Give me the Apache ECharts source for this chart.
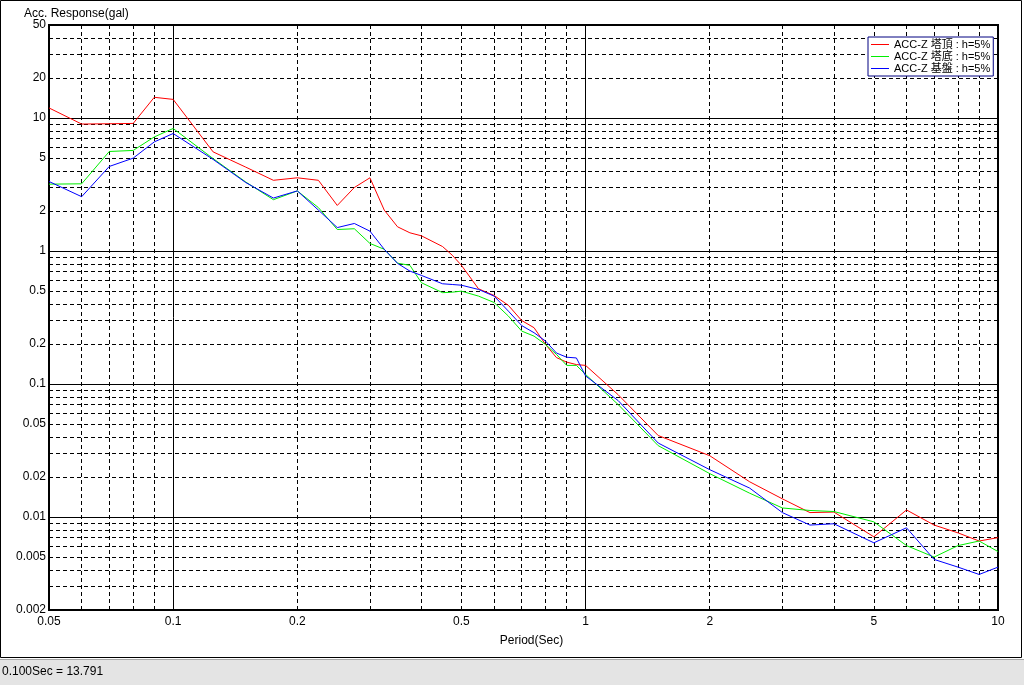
<!DOCTYPE html>
<html>
<head>
<meta charset="utf-8">
<script src="https://cdn.jsdelivr.net/npm/echarts@6/dist/echarts.min.js"></script>
<style>
html,body{margin:0;padding:0;background:#fff;}
#chart{width:1024px;height:685px;}
</style>
</head>
<body>
<div id="chart"></div>
<script>
// ---- data ----
const periods = [0.05,0.06,0.07,0.08,0.09,0.1,0.125,0.15,0.175,0.2,0.225,0.25,0.275,0.3,0.325,0.35,0.375,0.4,0.45,0.475,0.5,0.55,0.6,0.65,0.7,0.75,0.8,0.85,0.9,0.95,1.0,1.2,1.5,2.0,2.5,3.0,3.5,4.0,5.0,6.0,7.0,8.0,9.0,10.0];
const seriesNames = ['ACC-Z 塔頂 : h=5%', 'ACC-Z 塔底 : h=5%', 'ACC-Z 基盤 : h=5%'];
const topVals = [11.9,9.0,9.05,9.1,14.3,13.791,5.56,4.27,3.40,3.55,3.40,2.20,3.0,3.55,2.03,1.52,1.37,1.30,1.08,0.93,0.78,0.52,0.463,0.39,0.30,0.265,0.198,0.158,0.146,0.140,0.138,0.083,0.041,0.0289,0.0184,0.0137,0.0108,0.0109,0.0071,0.0113,0.0087,0.0076,0.0066,0.0070];
const bottomVals = [3.18,3.2,5.6,5.7,7.2,8.34,4.95,3.3,2.43,2.83,2.12,1.45,1.47,1.14,1.03,0.81,0.78,0.577,0.486,0.49,0.499,0.458,0.41,0.324,0.25,0.229,0.198,0.167,0.138,0.138,0.118,0.070,0.0344,0.0212,0.0151,0.0117,0.0112,0.0110,0.0092,0.0061,0.0050,0.0061,0.0066,0.0055];
const baseVals = [3.33,2.56,4.32,4.99,6.61,7.64,4.88,3.27,2.5,2.83,2.03,1.50,1.61,1.41,1.03,0.807,0.706,0.655,0.567,0.56,0.553,0.514,0.458,0.353,0.275,0.243,0.21,0.171,0.159,0.157,0.115,0.075,0.036,0.0227,0.0165,0.0108,0.0087,0.0089,0.0064,0.0083,0.0048,0.0042,0.0037,0.0042];
const seriesColors = ['#ff0000', '#00ee00', '#0000ff'];

// ---- ticks ----
const xLabelTicks = [0.05,0.1,0.2,0.5,1,2,5,10];
const xMajorTicks = [0.1,1];
const xMinorTicks = [0.06,0.07,0.08,0.09,0.2,0.3,0.4,0.5,0.6,0.7,0.8,0.9,2,3,4,5,6,7,8,9];
const yLabelTicks = [0.002,0.005,0.01,0.02,0.05,0.1,0.2,0.5,1,2,5,10,20,50];
const yMajorTicks = [0.01,0.1,1,10];
const yMinorTicks = [0.003,0.004,0.005,0.006,0.007,0.008,0.009,0.02,0.03,0.04,0.05,0.06,0.07,0.08,0.09,0.2,0.3,0.4,0.5,0.6,0.7,0.8,0.9,2,3,4,5,6,7,8,9,20,30,40];

const statusText = periods[5].toFixed(3) + 'Sec = ' + topVals[5].toFixed(3);

const narrowFont = '"Liberation Sans Narrow", "Liberation Sans", Arial, sans-serif';
const normalFont = '"Liberation Sans", Arial, "Noto Sans CJK JP", sans-serif';
const fmt = v => String(parseFloat(Number(v).toPrecision(6)));

function xAxisBase() {
  return {type:'log', logBase:10, min:0.05, max:10, gridIndex:0, position:'bottom',
    axisLine:{show:false, onZero:false}, axisTick:{show:false}, axisLabel:{show:false}, splitLine:{show:false}};
}
function yAxisBase() {
  return {type:'log', logBase:10, min:0.002, max:50, gridIndex:0, position:'left',
    axisLine:{show:false, onZero:false}, axisTick:{show:false}, axisLabel:{show:false}, splitLine:{show:false}};
}
const dashStyle = {color:'#000', width:1, type:[4,3]};
const solidStyle = {color:'#000', width:1, type:'solid'};

const xAxes = [
  Object.assign(xAxisBase(), {
    axisTick:{show:false, customValues:xLabelTicks},
    axisLabel:{show:true, customValues:xLabelTicks, formatter:fmt, margin:6, color:'#000', fontSize:12, fontFamily:narrowFont},
    name:'Period(Sec)', nameLocation:'middle', nameGap:25,
    nameTextStyle:{color:'#000', fontSize:12, fontFamily:narrowFont, padding:[0,0,0,16]}
  }),
  Object.assign(xAxisBase(), {axisTick:{show:false, customValues:xMinorTicks}, splitLine:{show:true, lineStyle:dashStyle}}),
  Object.assign(xAxisBase(), {axisTick:{show:false, customValues:xMajorTicks}, splitLine:{show:true, lineStyle:solidStyle}})
];
const yAxes = [
  Object.assign(yAxisBase(), {
    axisTick:{show:false, customValues:yLabelTicks},
    axisLabel:{show:true, customValues:yLabelTicks, formatter:fmt, margin:3, color:'#000', fontSize:12, fontFamily:narrowFont, padding:[4,0,0,0]}
  }),
  Object.assign(yAxisBase(), {axisTick:{show:false, customValues:yMinorTicks}, splitLine:{show:true, lineStyle:dashStyle}}),
  Object.assign(yAxisBase(), {axisTick:{show:false, customValues:yMajorTicks}, splitLine:{show:true, lineStyle:solidStyle}})
];

const valueSets = [topVals, bottomVals, baseVals];
const series = valueSets.map((vals, i) => ({
  name: seriesNames[i], type:'line', xAxisIndex:0, yAxisIndex:0,
  data: periods.map((p, j) => [p, vals[j]]),
  symbol:'none', showSymbol:false, animation:false, silent:true,
  lineStyle:{color:seriesColors[i], width:1}, itemStyle:{color:seriesColors[i]},
  z: 10 + i
}));

const chart = echarts.init(document.getElementById('chart'), null, {renderer:'canvas'});
chart.setOption({
  animation:false,
  backgroundColor:'#fff',
  title:{text:'Acc. Response(gal)', left:19, top:5, padding:[3,5,3,5],
    textStyle:{fontSize:12, fontWeight:'normal', color:'#000', fontFamily:normalFont}},
  grid:{left:49, right:26, top:25, bottom:75, show:true, borderColor:'#000', borderWidth:2, backgroundColor:'#fff'},
  legend:{
    data:seriesNames, left:868, top:37, orient:'vertical',
    backgroundColor:'#fff', borderColor:'#000080', borderWidth:1, borderRadius:0,
    padding:[2,3,2,3], itemGap:1, itemWidth:18, itemHeight:1, icon:'rect',
    selectedMode:false,
    textStyle:{fontSize:11, lineHeight:11, color:'#000', fontFamily:normalFont}
  },
  xAxis: xAxes,
  yAxis: yAxes,
  series: series,
  graphic:[
    {type:'rect', silent:true, z:-10, shape:{x:0.5, y:0.5, width:1021, height:657}, style:{fill:null, stroke:'#000', lineWidth:1}},
    {type:'rect', silent:true, shape:{x:0, y:659, width:1024, height:26}, style:{fill:'#e4e4e4'}},
    {type:'line', silent:true, shape:{x1:0, y1:659.5, x2:1024, y2:659.5}, style:{stroke:'#a8a8a8', lineWidth:1}},
    {type:'text', silent:true, x:2, y:672, style:{text:statusText, font:'12px "Liberation Sans", Arial, sans-serif', fill:'#000', verticalAlign:'middle'}}
  ]
});
</script>
</body>
</html>
